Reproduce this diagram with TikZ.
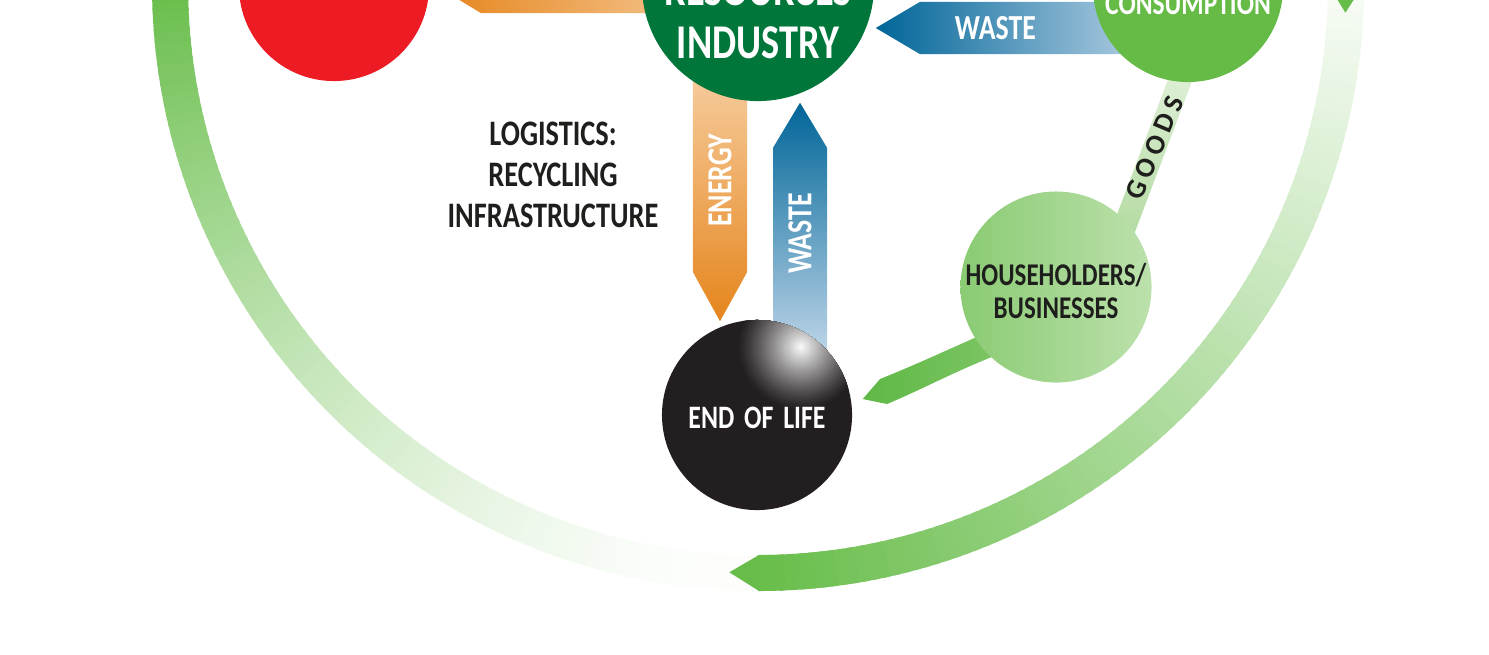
\documentclass[tikz,border=0pt]{standalone}
\usepackage{fontspec}
\setmainfont{Carlito}[FakeStretch=0.79]
\newfontfamily\goodsfont{Carlito}[LetterSpace=20]
\usetikzlibrary{calc, positioning}
\definecolor{hubred}{RGB}{237,28,36}
\definecolor{resgreen}{RGB}{0,118,58}
\definecolor{consgreen}{RGB}{101,187,70}
\definecolor{ringgreen}{RGB}{104,189,74}
\definecolor{bandgreen}{RGB}{95,184,70}
\definecolor{bandlight}{RGB}{130,200,105}
\definecolor{hhdark}{RGB}{138,203,115}
\definecolor{hhlight}{RGB}{188,225,172}
\definecolor{goodspale}{RGB}{228,242,222}
\definecolor{goodsmid}{RGB}{180,219,162}
\definecolor{orgdark}{RGB}{229,133,28}
\definecolor{orglight}{RGB}{248,212,172}
\definecolor{bluedark}{RGB}{0,101,152}
\definecolor{bluelight}{RGB}{206,223,239}
\definecolor{eolblack}{RGB}{35,31,32}
\definecolor{inkblack}{RGB}{30,30,28}
\pgfdeclarelayer{bg}
\pgfsetlayers{bg,main}

% pointed band from #2 to the tip #3, half width #4, head length #5
\newcommand{\flowarrow}[5]{%
  \path ($(#3)!#5!(#2)$) coordinate (neck);
  \shade[#1] ($(#2)!#4!90:(#3)$) -- ($(neck)!#4!-90:(#2)$) -- (#3)
    -- ($(neck)!#4!90:(#2)$) -- ($(#2)!#4!-90:(#3)$) -- cycle;}

\begin{document}
\begin{tikzpicture}[x=0.01cm, y=-0.01cm,
  hub/.style={circle, inner sep=0pt, draw=none},
  hubtext/.style={text=white, align=center, inner sep=0pt},
  arrtext/.style={text=white, inner sep=0pt, font=\bfseries\fontsize{10}{12}\selectfont},
  ringseg/.style={line width=0.36cm}
]
  \useasboundingbox (0,0) rectangle (1489,654);
  \clip (0,0) rectangle (1489,654);

  % hubs
  \node[hub, fill=hubred, minimum size=1.9cm] (redhub) at (334,-14) {};
  \node[hub, fill=resgreen, minimum size=2.32cm] (industry) at (758,-15) {};
  \node[hub, fill=consgreen, minimum size=1.9cm] (consume) at (1188,-13) {};
  \node[hub, fill=eolblack, minimum size=1.9cm] (eol) at (757,415) {};
  % gloss on the black ball
  \begin{scope}
    \clip (eol) circle[radius=0.95cm];
    \foreach \i in {1,...,30}{
      \pgfmathsetmacro\rr{0.64*(1-(\i-1)/30)}
      \pgfmathsetmacro\w{100*((\i-1)/30)^1.2}
      \fill[white!\w!eolblack] ($(eol)+(0.44cm,0.68cm)$) circle[radius=\rr cm];
    }
  \end{scope}
  \node[hub, left color=hhdark, right color=hhlight, minimum size=1.82cm,
    text=inkblack, align=center, font=\bfseries\fontsize{9}{9.4}\selectfont]
    (house) at (1056,287) {\mbox{}\\[-0.75pt]HOUSEHOLDERS/\\BUSINESSES};

  \node[hubtext, font=\bfseries\fontsize{13.8}{15.1}\selectfont] (indlbl)
    at ($(industry)+(0,31)$) {RESOURCES\\INDUSTRY};
  \node[hubtext, font=\bfseries\fontsize{9.2}{11}\selectfont] (conslbl)
    at ($(consume)+(0,17)$) {CONSUMPTION};
  \node[hubtext, font=\bfseries\fontsize{9.3}{11}\selectfont] (eollbl)
    at ($(eol)+(0,3)$) {END\hspace{0.3em}OF\hspace{0.3em}LIFE};
  \node[text=inkblack, align=center, inner sep=0pt,
    font=\bfseries\fontsize{10.2}{11.67}\selectfont] (logistics)
    at (553,175) {LOGISTICS:\\RECYCLING\\INFRASTRUCTURE};

  \begin{pgfonlayer}{bg}
    \clip (0,0) rectangle (1489,654);
    % outer ring, left part fades out at the bottom
    \foreach \a in {86,...,182}{
      \pgfmathsetmacro\p{100*(min(1,max(0.07,(\a-90)/90)))^1.6}
      \draw[ringseg, draw=ringgreen!\p!white] ($(industry)+({\a-0.6}:588)$)
        arc[start angle=\a-0.6, end angle=\a+0.8, radius=588];
    }
    % outer ring, right part fades out at the top
    \foreach \a in {1,...,89}{
      \pgfmathsetmacro\p{4+96*\a/90}
      \draw[ringseg, draw=ringgreen!\p!white] ($(industry)+({\a-0.6}:588)$)
        arc[start angle=\a-0.6, end angle=\a+1, radius=588];
    }
    \fill[ringgreen] ($(industry)+(89.9:570)$) -- ($(industry)+(92.8:588)$)
      -- ($(industry)+(89.9:606)$) -- cycle;
    \draw[ringseg, draw=ringgreen] ($(industry)+(-20:588)$)
      arc[start angle=-20, end angle=0, radius=588];
    \fill[ringgreen] ($(industry)+(-0.1:570)$) -- ($(industry)+(2.7:588)$)
      -- ($(industry)+(-0.1:606)$) -- cycle;

    % flows between the hubs
    \coordinate (ortip) at ($(redhub.east)+(5,-1)$);
    \flowarrow{left color=orgdark, right color=orglight}{industry}{ortip}{0.28cm}{0.46cm}
    \coordinate (wstart) at ($(consume)+(0,41)$);
    \coordinate (wtip) at ($(industry.east)+(1,43)$);
    \flowarrow{left color=bluedark, right color=bluelight}{wstart}{wtip}{0.26cm}{0.44cm}
    \coordinate (estart) at ($(industry)+(-38,60)$);
    \coordinate (etip) at ($(eol.north)+(-37,2)$);
    \flowarrow{top color=orglight, bottom color=orgdark}{estart}{etip}{0.27cm}{0.49cm}
    \coordinate (vstart) at ($(eol)+(43,-40)$);
    \coordinate (vtip) at ($(industry.south)+(42,1)$);
    \flowarrow{top color=bluedark, bottom color=bluelight}{vstart}{vtip}{0.27cm}{0.45cm}
    \coordinate (gtop) at ($(consume)+(2,67)$);
    \coordinate (gbot) at ($(house)+(67,-56)$);
    \flowarrow{top color=goodspale, bottom color=goodsmid}{gtop}{gbot}{0.115cm}{0.001cm}
    \coordinate (hbtip) at ($(eol.east)+(10,-16)$);
    \shade[left color=bandgreen, right color=bandlight]
      ($(house)+(-36,31)$) .. controls (975,337) and (925,361) .. (880,379)
      -- (hbtip) -- (887,404) .. controls (930,386) and (972,362) ..
      ($(house)+(-31,58)$) -- cycle;
  \end{pgfonlayer}

  \node[arrtext] (wlbl) at ($(wtip)!0.383!(wstart)$) {WASTE};
  \node[arrtext, rotate=90] (elbl) at ($(estart)!0.49!(etip)$) {ENERGY};
  \node[arrtext, rotate=90] (vlbl) at ($(vtip)!0.48!(vstart)$) {WASTE};
  \node[text=inkblack, inner sep=0pt, rotate=67,
    font=\goodsfont\bfseries\fontsize{8}{9}\selectfont] (goodslbl)
    at ($(gtop)!0.53!(gbot)$) {GOODS};
\end{tikzpicture}
\end{document}
